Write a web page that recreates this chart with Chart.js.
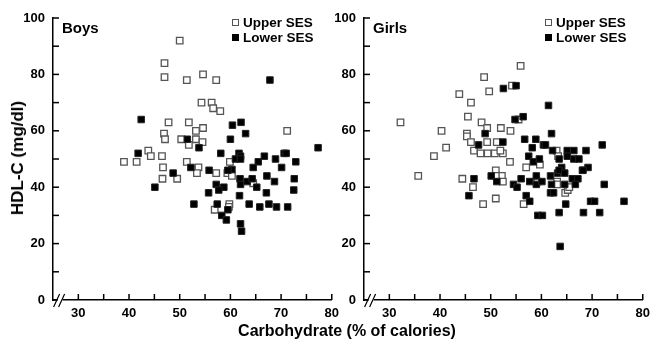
<!DOCTYPE html>
<html>
<head>
<meta charset="utf-8">
<script src="https://cdn.jsdelivr.net/npm/chart.js@4"></script>
<style>
  body { margin: 0; background: #fff; width: 656px; height: 344px; position: relative; overflow: hidden;
         font-family: "Liberation Sans", Arial, sans-serif; font-weight: bold; color: #000; }
  canvas { position: absolute; top: 0; }
  .lbl { position: absolute; white-space: nowrap; }
  .panel { font-size: 15px; }
  .leg { font-size: 13.5px; line-height: 15px; }
  .box { display: inline-block; width: 6px; height: 6px; margin-right: 4px; vertical-align: 1px; }
  .open { border: 1px solid #555; background: #fff; width: 5px; height: 5px; }
  .fill { background: #000; border: 1px solid #000; width: 5px; height: 5px; }
</style>
</head>
<body>
<canvas id="boys" width="345" height="344" style="left:0"></canvas>
<canvas id="girls" width="345" height="344" style="left:311px"></canvas>

<div class="lbl panel" style="left:62px; top:19px">Boys</div>
<div class="lbl panel" style="left:373px; top:19px">Girls</div>

<div class="lbl leg" style="left:232px; top:15px"><span class="box open"></span>Upper SES</div>
<div class="lbl leg" style="left:232px; top:30px"><span class="box fill"></span>Lower SES</div>
<div class="lbl leg" style="left:545px; top:15px"><span class="box open"></span>Upper SES</div>
<div class="lbl leg" style="left:545px; top:30px"><span class="box fill"></span>Lower SES</div>

<div class="lbl" style="left:18px; top:158px; font-size:17px; transform: translate(-50%,-50%) rotate(-90deg);">HDL-C (mg/dl)</div>
<div class="lbl" style="left:347px; top:331px; font-size:16px; transform: translate(-50%,-50%);">Carbohydrate (% of calories)</div>

<script>
// carbohydrate (% of calories) and HDL-C (mg/dl)
const boysUpperX = [50, 47, 47, 51.4, 54.6, 57.2, 54.3, 56.3, 56.6, 58, 47.8, 51.8, 53.2, 54.6, 46.9, 47.1, 50.3, 53.2, 54.5, 51.8,
  71.2, 43.8, 44.3, 46.5, 39, 41.5, 46.7, 51.4, 53.7, 59.9, 53.4, 57.2, 46.6, 49.5, 59.4, 60.3, 64.5, 56.9, 59.8, 59.7];
const boysUpperY = [92, 84, 79, 78, 80, 78, 70, 70, 68, 67, 63, 63, 60, 61, 59, 57, 57, 57, 56, 55,
  60, 53, 51, 51, 49, 49, 47, 49, 47, 49, 45, 45, 43, 43, 45, 44, 41.4, 32, 34, 33];

const boysLowerX = [42.4, 51.5, 53.8, 41.8, 52.2, 48.7, 45.1, 55.8, 57.2, 55.7, 52.8, 57.4, 67.8, 60.4, 62.1, 63, 60, 77.3, 58.1, 61.7,
  62, 61, 62, 65.5, 66.7, 68.9, 70.6, 71, 72.9, 64.5, 70.1, 60.3, 59.5, 61.9, 62, 63.3, 64.3, 65.2, 67.2, 68.7,
  72.6, 72.5, 67.1, 61.8, 58.7, 57.7, 59.5, 58.3, 59.2, 62, 62.2, 63.7, 65.8, 67.6, 69.1, 71.3];
const boysLowerY = [64, 57, 54, 52, 47, 45, 40, 46, 41, 38, 34, 34, 78, 62, 63, 59, 57, 54, 52, 52,
  51, 50, 50, 49, 51, 50, 52, 52, 49, 47, 47, 46.3, 46, 43, 41, 42, 43, 40, 44, 42,
  43, 39, 38, 37, 40, 39, 32, 30, 28.4, 27, 24.4, 34, 33, 34, 33, 33];

const girlsUpperX = [55.9, 48.7, 49.7, 43.8, 54.2, 46.1, 45.5, 32.2, 48.2, 55.5, 40.3, 49.3, 52, 53.9, 45.3, 45.3, 46.1, 49.3, 51.2, 41.2,
  46.7, 48, 49.4, 50.8, 52.4, 51.9, 63, 63.3, 53.8, 38.8, 59.7, 51, 57, 35.7, 44.4, 46.5, 48.5, 51, 52.2, 52.4,
  51, 56.5, 59.2, 63.1, 63.1, 64.7, 65.2, 65.5];
const girlsUpperY = [83, 79, 74, 73, 76, 70, 65, 63, 63, 64, 60, 61, 61, 60, 59, 58, 56, 56, 56, 54,
  53, 52, 52, 52, 52, 53, 53, 51, 49, 51, 48, 46, 47, 44, 43, 40, 34, 36, 44, 42,
  44, 34, 42, 42, 41, 38, 39, 40];

const girlsLowerX = [52.5, 55, 61.4, 54.8, 56.4, 48.9, 56.7, 58.9, 62, 47.6, 52.4, 58.2, 60.4, 60.8, 72, 62.2, 63.5, 65.1, 66.4, 68.8,
  65.1, 66.4, 67.4, 57.5, 58.4, 59.6, 64, 69.2, 68.1, 46.7, 45.7, 50.1, 51.2, 54.5, 55.2, 56, 57, 57.7, 57.7, 59,
  59, 60.1, 59.3, 60.2, 61.8, 62, 61.8, 62.4, 63.2, 63.5, 64.6, 63.5, 63.7, 64.6, 64.8, 66.1, 67.2, 66.7, 68.2, 68.3,
  69.7, 70.5, 71.5, 72.4, 76.3];
const girlsLowerY = [75, 76, 69, 64, 65, 59, 57, 57, 59, 55, 56, 54, 55, 55, 55, 53, 50, 53, 53, 53,
  51, 50, 50, 51, 49, 50, 47, 47, 46, 43, 37, 44, 42, 41, 40, 43, 37, 35, 42, 44,
  41, 42, 30, 30, 44, 41, 38, 38, 45, 46, 45, 31, 19, 41, 34, 43, 43, 41, 46, 31,
  35, 35, 31, 41, 35];

const xMin = 25, xMax = 80, xBreak = 26.5;
const yMin = 0, yMax = 100;

function pts(xs, ys) {
  return xs.map((x, i) => ({ x: x, y: ys[i] }));
}

// ticks point into the plot, plus the "//" break on the x axis
const axisMarks = {
  id: 'axisMarks',
  afterDraw(chart) {
    const ctx = chart.ctx;
    const a = chart.chartArea;
    const xs = chart.scales.x, ys = chart.scales.y;
    ctx.save();
    ctx.strokeStyle = '#000';
    ctx.lineWidth = 1.5;
    xs.ticks.forEach(t => {
      if (t.value <= xMin) return;
      const px = xs.getPixelForValue(t.value);
      ctx.beginPath();
      ctx.moveTo(px, a.bottom);
      ctx.lineTo(px, a.bottom - 6);
      ctx.stroke();
    });
    ys.ticks.forEach(t => {
      const py = ys.getPixelForValue(t.value);
      ctx.beginPath();
      ctx.moveTo(a.left, py);
      ctx.lineTo(a.left + 6, py);
      ctx.stroke();
    });
    const bx = xs.getPixelForValue(xBreak);
    ctx.fillStyle = '#fff';
    ctx.fillRect(bx - 3, a.bottom - 2, 5, 4);
    ctx.lineWidth = 1.2;
    ctx.beginPath();
    ctx.moveTo(bx - 7, a.bottom + 7);
    ctx.lineTo(bx - 1, a.bottom - 6);
    ctx.moveTo(bx - 2, a.bottom + 7);
    ctx.lineTo(bx + 4, a.bottom - 6);
    ctx.stroke();
    ctx.restore();
  }
};

function makeChart(id, upper, lower) {
  const tickFont = { family: 'Liberation Sans', size: 13, weight: 'bold' };
  return new Chart(document.getElementById(id), {
    type: 'scatter',
    data: {
      datasets: [
        {
          label: 'Lower SES',
          data: lower,
          order: 0,
          pointStyle: 'rect',
          pointRadius: 4.6,
          backgroundColor: '#000',
          borderColor: '#222',
          borderWidth: 1
        },
        {
          label: 'Upper SES',
          data: upper,
          order: 1,
          pointStyle: 'rect',
          pointRadius: 4.6,
          backgroundColor: '#fff',
          borderColor: '#555',
          borderWidth: 1.3
        }
      ]
    },
    options: {
      responsive: false,
      animation: false,
      devicePixelRatio: 1,
      layout: { padding: { top: 18, right: 11, left: 0, bottom: 0 } },
      plugins: { legend: { display: false }, tooltip: { enabled: false } },
      scales: {
        x: {
          type: 'linear',
          min: xMin,
          max: xMax,
          grid: { display: false, drawTicks: false },
          border: { display: true, color: '#000', width: 1.5 },
          ticks: {
            stepSize: 5,
            padding: 6,
            color: '#000',
            font: tickFont,
            callback: v => (v % 10 === 0 ? v : '')
          },
          afterFit: s => { s.height = 44; }
        },
        y: {
          min: yMin,
          max: yMax,
          grid: { display: false, drawTicks: false },
          border: { display: true, color: '#000', width: 1.5 },
          ticks: {
            stepSize: 10,
            padding: 8,
            color: '#000',
            font: tickFont,
            callback: v => (v % 20 === 0 ? v : '')
          },
          afterFit: s => { s.width = 53; }
        }
      }
    },
    plugins: [axisMarks]
  });
}

makeChart('boys', pts(boysUpperX, boysUpperY), pts(boysLowerX, boysLowerY));
makeChart('girls', pts(girlsUpperX, girlsUpperY), pts(girlsLowerX, girlsLowerY));
</script>
</body>
</html>
